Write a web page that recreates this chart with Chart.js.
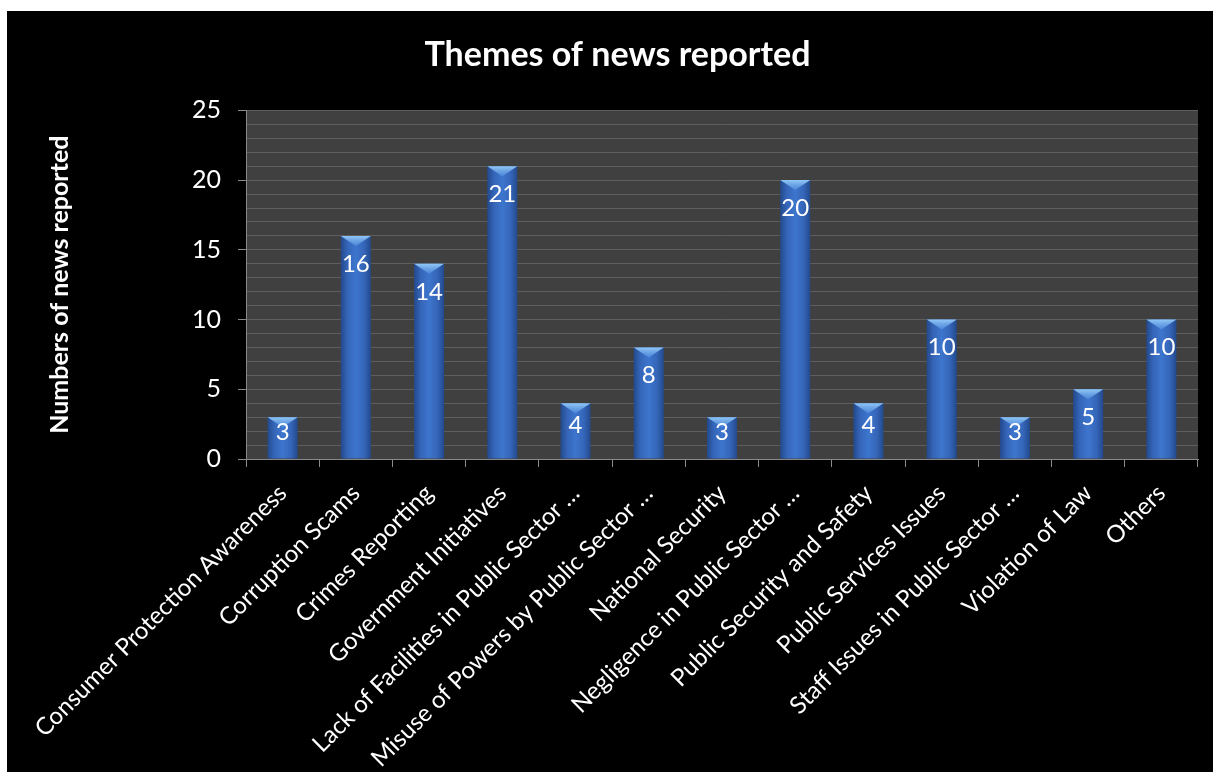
<!DOCTYPE html>
<html>
<head>
<meta charset="utf-8">
<script src="https://cdn.jsdelivr.net/npm/chart.js@4.4.1/dist/chart.umd.min.js"></script>
<style>
    html, body { margin: 0; padding: 0; background: #ffffff; }
    #wrap { position: absolute; left: 7px; top: 11px; width: 1206px; height: 761px; background: #000000; }
</style>
</head>
<body>
<div id="wrap"><canvas id="chart" width="1206" height="761"></canvas></div>
<script>
const themes = [
    'Consumer Protection Awareness',
    'Corruption Scams',
    'Crimes Reporting',
    'Government Initiatives',
    'Lack of Facilities in Public Sector …',
    'Misuse of Powers by Public Sector …',
    'National Security',
    'Negligence in Public Sector …',
    'Public Security and Safety',
    'Public Services Issues',
    'Staff Issues in Public Sector …',
    'Violation of Law',
    'Others'
];
const newsCounts = [3, 16, 14, 21, 4, 8, 3, 20, 4, 10, 3, 5, 10];
const yMin = 0;
const yMax = 25;

const FONT = 'Lato, "Open Sans", sans-serif';
const BAR_PCT = 0.41;

// cylinder-ish shading across each bar
function barFill(context) {
    const chart = context.chart;
    const xScale = chart.scales.x;
    if (!xScale || context.dataIndex === undefined) return '#3a70c8';
    const xc = xScale.getPixelForValue(context.dataIndex);
    const w = (xScale.width / themes.length) * BAR_PCT;
    if (!isFinite(xc) || !isFinite(w) || w <= 0) return '#3a70c8';
    const g = chart.ctx.createLinearGradient(xc - w / 2, 0, xc + w / 2, 0);
    g.addColorStop(0, '#22498c');
    g.addColorStop(0.22, '#3565b8');
    g.addColorStop(0.5, '#3d76ce');
    g.addColorStop(0.78, '#3565b8');
    g.addColorStop(1, '#22498c');
    return g;
}

const plotBackground = {
    id: 'plotBackground',
    beforeDraw(chart) {
        const { ctx, chartArea } = chart;
        ctx.save();
        ctx.fillStyle = '#404040';
        ctx.fillRect(chartArea.left, chartArea.top, chartArea.right - chartArea.left, chartArea.bottom - chartArea.top);
        ctx.restore();
    }
};

const barCaps = {
    id: 'barCaps',
    afterDatasetsDraw(chart) {
        const ctx = chart.ctx;
        const meta = chart.getDatasetMeta(0);
        ctx.save();
        meta.data.forEach((bar, i) => {
            const half = bar.width / 2;
            const top = bar.y;
            const base = bar.base;
            // light triangle on top
            const g = ctx.createLinearGradient(0, top, 0, top + 10);
            g.addColorStop(0, 'rgba(150, 205, 250, 0.95)');
            g.addColorStop(1, 'rgba(90, 150, 225, 0.6)');
            ctx.fillStyle = g;
            ctx.beginPath();
            ctx.moveTo(bar.x - half, top);
            ctx.lineTo(bar.x + half, top);
            ctx.lineTo(bar.x, top + 10);
            ctx.closePath();
            ctx.fill();
            // value label
            const y = Math.min(top + 28, (top + base) / 2 - 6);
            ctx.fillStyle = '#ffffff';
            ctx.font = '24px ' + FONT;
            ctx.textAlign = 'center';
            ctx.textBaseline = 'middle';
            ctx.fillText(String(newsCounts[i]), bar.x, y);
        });
        ctx.restore();
    }
};

new Chart(document.getElementById('chart'), {
    type: 'bar',
    data: {
        labels: themes,
        datasets: [{
            label: 'Numbers of news reported',
            data: newsCounts,
            backgroundColor: barFill,
            borderWidth: 0,
            barPercentage: BAR_PCT,
            categoryPercentage: 1
        }]
    },
    options: {
        responsive: false,
        animation: false,
        layout: { padding: { left: 30, right: 15, top: 0, bottom: 0 } },
        plugins: {
            legend: { display: false },
            tooltip: { enabled: false },
            title: {
                display: true,
                text: 'Themes of news reported',
                color: '#ffffff',
                font: { family: FONT, size: 34, weight: 'bold', lineHeight: 1.2 },
                padding: { top: 24, bottom: 34.6 }
            }
        },
        scales: {
            x: {
                afterFit: s => { s.height = 313; },
                grid: {
                    offset: true,
                    drawOnChartArea: false,
                    tickLength: 8,
                    tickColor: '#8a8a8a'
                },
                border: { color: '#8a8a8a', width: 1 },
                ticks: {
                    color: '#ffffff',
                    font: { family: FONT, size: 24 },
                    minRotation: 45,
                    maxRotation: 45,
                    autoSkip: false,
                    padding: 12
                }
            },
            y: {
                min: yMin,
                max: yMax,
                afterFit: s => { s.width = 209; },
                grid: {
                    color: '#5e5e5e',
                    tickLength: 8,
                    tickColor: c => (c.tick && c.tick.value % 5 === 0) ? '#8a8a8a' : 'rgba(0,0,0,0)'
                },
                border: { color: '#8a8a8a', width: 1 },
                ticks: {
                    stepSize: 1,
                    maxTicksLimit: 30,
                    autoSkip: false,
                    color: '#ffffff',
                    font: { family: FONT, size: 25 },
                    padding: 17,
                    callback: v => (v % 5 === 0 ? v : '')
                },
                title: {
                    display: true,
                    text: 'Numbers of news reported',
                    color: '#ffffff',
                    font: { family: FONT, size: 25, weight: 'bold', lineHeight: 1.2 },
                    padding: { top: 8, bottom: 0 }
                }
            }
        }
    },
    plugins: [plotBackground, barCaps]
});
</script>
</body>
</html>
